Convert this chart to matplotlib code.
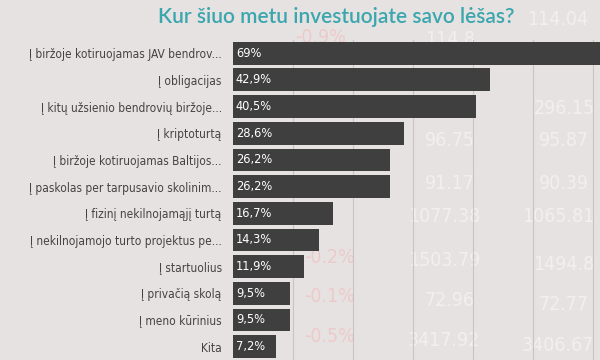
import matplotlib
matplotlib.use("Agg")
import matplotlib.pyplot as plt

# Apklausos duomenys
kategorijos = [
    "Į biržoje kotiruojamas JAV bendrov...",
    "Į obligacijas",
    "Į kitų užsienio bendrovių biržoje...",
    "Į kriptoturtą",
    "Į biržoje kotiruojamas Baltijos...",
    "Į paskolas per tarpusavio skolinim...",
    "Į fizinį nekilnojamąjį turtą",
    "Į nekilnojamojo turto projektus pe...",
    "Į startuolius",
    "Į privačią skolą",
    "Į meno kūrinius",
    "Kita",
]
reiksmes = [69, 42.9, 40.5, 28.6, 26.2, 26.2, 16.7, 14.3, 11.9, 9.5, 9.5, 7.2]
zymos = ["69%", "42,9%", "40,5%", "28,6%", "26,2%", "26,2%", "16,7%",
         "14,3%", "11,9%", "9,5%", "9,5%", "7,2%"]

# blankus biržos kotiruočių fonas (dekoracija)
fono_skaiciai = ["114.8", "114.04", "296.15", "96.75", "95.87", "91.17", "90.39",
                 "1077.38", "1065.81", "1503.79", "1494.8", "72.96", "72.77",
                 "3417.92", "3406.67"]
fono_x = [0.75, 0.93, 0.94, 0.75, 0.94, 0.75, 0.94, 0.74, 0.93, 0.74, 0.94,
          0.75, 0.94, 0.74, 0.93]
fono_y = [0.89, 0.945, 0.70, 0.61, 0.61, 0.49, 0.49, 0.40, 0.40, 0.275, 0.265,
          0.165, 0.155, 0.055, 0.04]
fono_proc = ["-0.9%", "-0.2%", "-0.1%", "-0.5%"]
proc_x = [0.535, 0.55, 0.55, 0.55]
proc_y = [0.895, 0.285, 0.175, 0.065]

fonas = "#e7e2e2"
juosta = "#3f3f3f"

fig = plt.figure(figsize=(6, 3.6), dpi=100, facecolor=fonas)

for t, fx, fy in zip(fono_skaiciai, fono_x, fono_y):
    fig.text(fx, fy, t, color="white", alpha=0.45, fontsize=14, ha="center",
             va="center", fontstretch="condensed", zorder=0)
for t, fx, fy in zip(fono_proc, proc_x, proc_y):
    fig.text(fx, fy, t, color="#f4a8a4", alpha=0.4, fontsize=14, ha="center",
             va="center", fontstretch="condensed", zorder=0)

ax = fig.add_axes([0.388, 0.0, 0.612, 0.889])
ax.set_facecolor("none")
ax.set_zorder(2)

y = list(range(len(kategorijos)))
ax.barh(y, reiksmes, height=0.86, color=juosta, zorder=3)

for yi, z in zip(y, zymos):
    ax.text(0.5, yi, z, color="white", fontsize=9.2, va="center", ha="left",
            fontstretch="condensed", zorder=4)

ax.set_ylim(len(kategorijos) - 0.5, -0.5)
ax.set_xlim(0, 61.2)
ax.set_xticks(range(10, 61, 10))
ax.xaxis.grid(True, color="#c9c4c4", linewidth=0.8, zorder=0)
ax.tick_params(axis="x", length=0, labelbottom=False)
ax.tick_params(axis="y", length=0, pad=8)
ax.set_yticks(y)
ax.set_yticklabels(kategorijos, fontsize=8.6, color="#444444", fontstretch="condensed")
for s in ax.spines.values():
    s.set_visible(False)

fig.text(0.561, 0.953, "Kur šiuo metu investuojate savo lėšas?", color="#3aa6ae",
         fontsize=15, fontweight=600, family="Lato", ha="center", va="center")

fig.savefig("out.png", dpi=100, facecolor=fonas)
